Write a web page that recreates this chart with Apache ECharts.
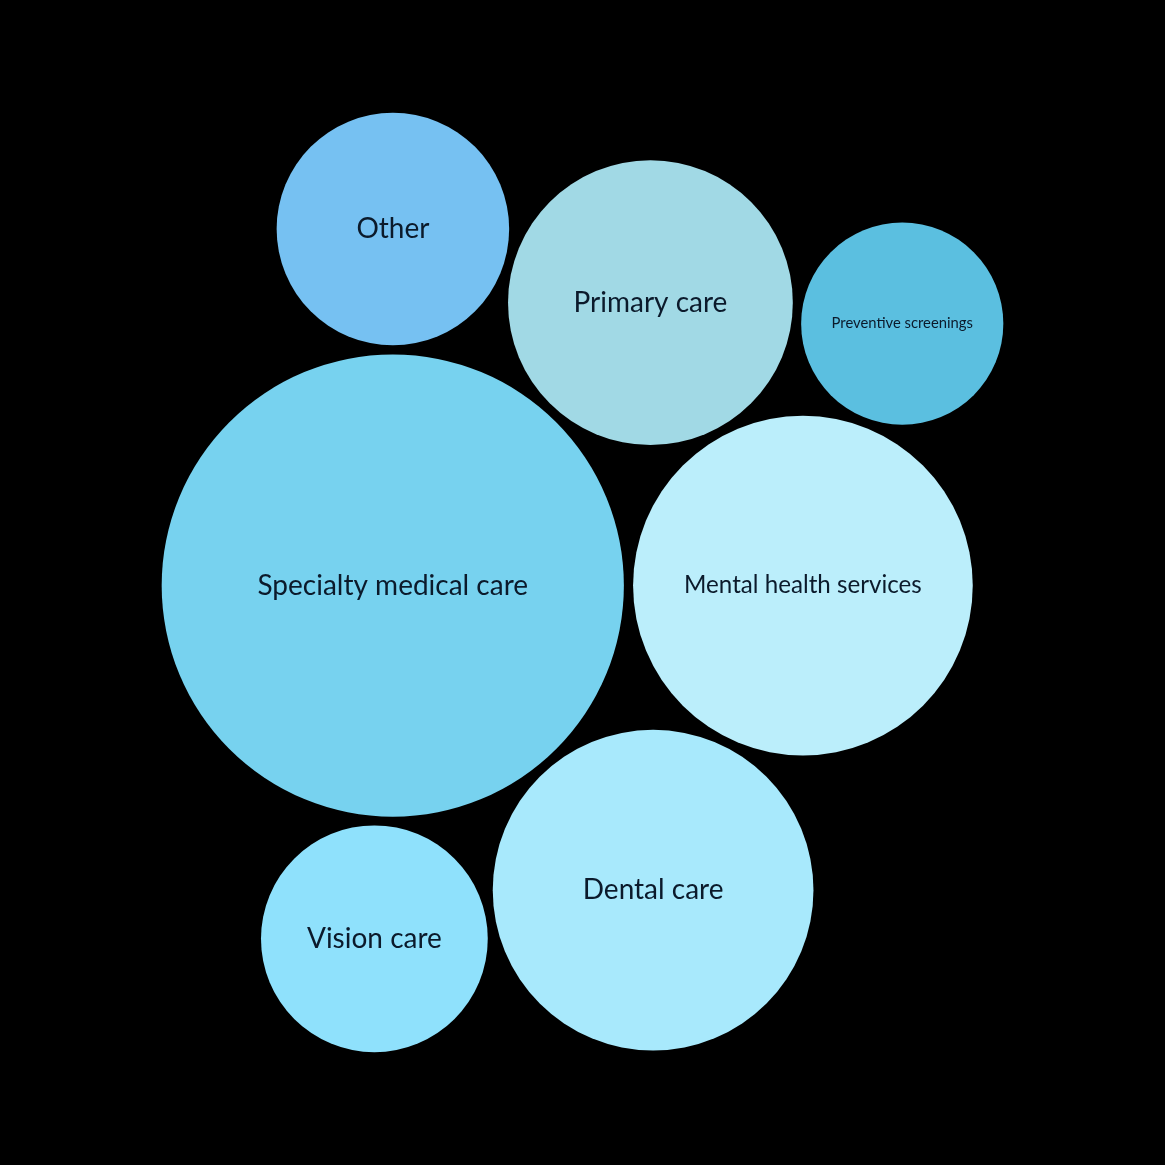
<!DOCTYPE html>
<html>
<head>
<meta charset="utf-8">
<script src="https://cdn.jsdelivr.net/npm/echarts@6/dist/echarts.min.js"></script>
<style>
  html, body { margin: 0; background: #000; }
  #main { width: 1165px; height: 1165px; }
</style>
</head>
<body>
<div id="main"></div>
<script>
// share of spending, %
var categories = ['Specialty medical care', 'Mental health services', 'Dental care', 'Primary care', 'Other', 'Vision care', 'Preventive screenings'];
var shares = [32.4, 17.5, 15.6, 12.3, 8.2, 7.8, 6.2];
var palette = ['#77d2ef', '#bbeefb', '#a8e9fc', '#a1d9e5', '#76c1f2', '#8fe1fc', '#5bbfe0'];

var SIZE = 1165;
var K = 40.6;      // px radius per sqrt(value)
var PAD = 4.6;     // half gap between bubbles
var FONT = 'Lato';
var BASE_FONT = 28;

// --- front-chain sibling packing (same idea as d3.packSiblings) ---
function place(b, a, c) {
  var dx = b.x - a.x, dy = b.y - a.y, d2 = dx * dx + dy * dy, x, y, a2, b2;
  if (d2) {
    a2 = a.r + c.r; a2 *= a2;
    b2 = b.r + c.r; b2 *= b2;
    if (a2 > b2) {
      x = (d2 + b2 - a2) / (2 * d2);
      y = Math.sqrt(Math.max(0, b2 / d2 - x * x));
      c.x = b.x - x * dx - y * dy;
      c.y = b.y - x * dy + y * dx;
    } else {
      x = (d2 + a2 - b2) / (2 * d2);
      y = Math.sqrt(Math.max(0, a2 / d2 - x * x));
      c.x = a.x + x * dx - y * dy;
      c.y = a.y + x * dy + y * dx;
    }
  } else {
    c.x = a.x + c.r; c.y = a.y;
  }
}
function intersects(a, b) {
  var dr = a.r + b.r - 1e-6, dx = b.x - a.x, dy = b.y - a.y;
  return dr > 0 && dr * dr > dx * dx + dy * dy;
}
function score(node) {
  var a = node._, b = node.next._, ab = a.r + b.r;
  var dx = (a.x * b.r + b.x * a.r) / ab, dy = (a.y * b.r + b.y * a.r) / ab;
  return dx * dx + dy * dy;
}
function Node(c) { this._ = c; this.next = null; this.previous = null; }

function packSiblings(circles) {
  var n = circles.length, a, b, c, i, j, k, sj, sk, aa, ca;
  if (!n) return;
  a = circles[0]; a.x = 0; a.y = 0;
  if (n < 2) return;
  b = circles[1]; a.x = -b.r; b.x = a.r; b.y = 0;
  if (n < 3) return;
  place(b, a, c = circles[2]);
  a = new Node(a); b = new Node(b); c = new Node(c);
  a.next = c.previous = b;
  b.next = a.previous = c;
  c.next = b.previous = a;
  pack: for (i = 3; i < n; ++i) {
    place(a._, b._, c = circles[i]); c = new Node(c);
    j = b.next; k = a.previous; sj = b._.r; sk = a._.r;
    do {
      if (sj <= sk) {
        if (intersects(j._, c._)) { b = j; a.next = b; b.previous = a; --i; continue pack; }
        sj += j._.r; j = j.next;
      } else {
        if (intersects(k._, c._)) { a = k; a.next = b; b.previous = a; --i; continue pack; }
        sk += k._.r; k = k.previous;
      }
    } while (j !== k.next);
    c.previous = a; c.next = b; a.next = b.previous = b = c;
    aa = score(a);
    while ((c = c.next) !== b) {
      if ((ca = score(c)) < aa) { a = c; aa = ca; }
    }
    b = a.next;
  }
}

var circles = categories.map(function (name, i) {
  return { name: name, value: shares[i], color: palette[i], r: K * Math.sqrt(shares[i]) + PAD };
}).sort(function (p, q) { return q.value - p.value; });
packSiblings(circles);

// centre the bounding box of the pack on the canvas
var x0 = Infinity, x1 = -Infinity, y0 = Infinity, y1 = -Infinity;
circles.forEach(function (c) {
  var r = c.r - PAD;
  x0 = Math.min(x0, c.x - r); x1 = Math.max(x1, c.x + r);
  y0 = Math.min(y0, c.y - r); y1 = Math.max(y1, c.y + r);
});
var ox = SIZE / 2 - (x0 + x1) / 2, oy = SIZE / 2 - (y0 + y1) / 2;

// labels shrink to fit ~70% of the bubble width
var measure = document.createElement('canvas').getContext('2d');
function fitSize(text, r) {
  measure.font = BASE_FONT + 'px ' + FONT;
  var w = measure.measureText(text).width;
  return Math.min(BASE_FONT, BASE_FONT * (2 * r * 0.7) / w);
}

var data = circles.map(function (c) {
  var r = c.r - PAD;
  return {
    name: c.name,
    value: [c.x + ox, c.y + oy, c.value],
    itemStyle: { color: c.color },
    label: { fontSize: fitSize(c.name, r) }
  };
});

var chart = echarts.init(document.getElementById('main'));
chart.setOption({
  backgroundColor: '#000',
  animation: false,
  grid: { left: 0, right: 0, top: 0, bottom: 0 },
  xAxis: { type: 'value', min: 0, max: SIZE, show: false },
  yAxis: { type: 'value', min: 0, max: SIZE, inverse: true, show: false },
  series: [{
    type: 'scatter',
    symbol: 'circle',
    symbolSize: function (v) { return 2 * K * Math.sqrt(v[2]); },
    data: data,
    itemStyle: { opacity: 1 },
    label: {
      show: true,
      position: 'inside',
      formatter: '{b}',
      color: '#0b1a2b',
      fontFamily: FONT,
      fontWeight: 'normal'
    },
    emphasis: { disabled: true }
  }]
});
</script>
</body>
</html>
